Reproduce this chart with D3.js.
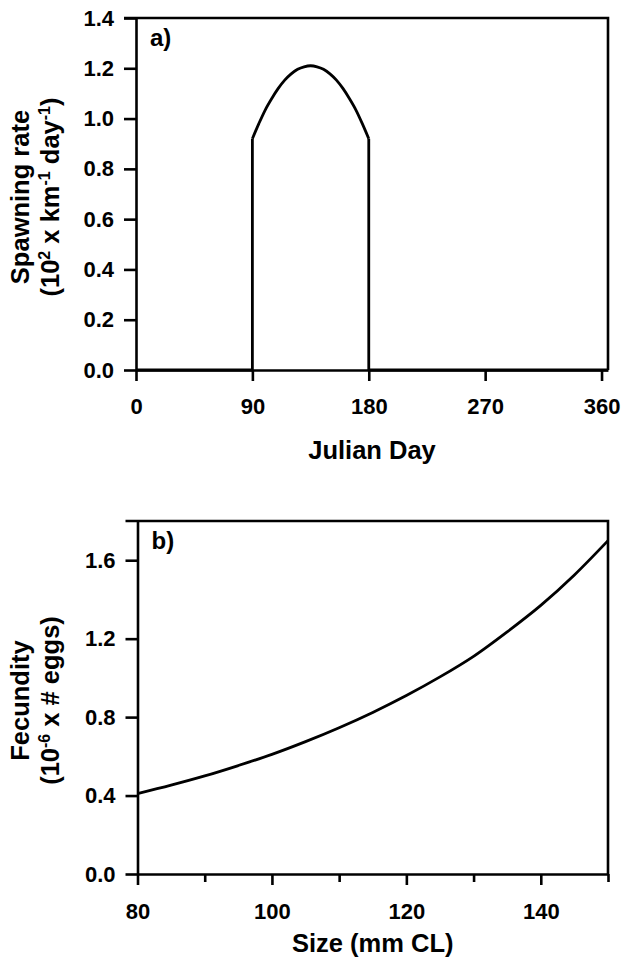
<!DOCTYPE html>
<html>
<head>
<meta charset="utf-8">
<script src="https://cdn.jsdelivr.net/npm/d3@7"></script>
<style>
  body { margin: 0; background: #fff; }
  svg { display: block; }
  .axis text { font-family: "Liberation Sans", Arial, sans-serif; font-weight: bold; font-size: 22px; fill: #000; }
  .axis path, .axis line { stroke: #000; stroke-width: 2.6; }
  .title { font-family: "Liberation Sans", Arial, sans-serif; font-weight: bold; font-size: 25.5px; fill: #000; }
</style>
</head>
<body>
<script>
// 画布尺寸
const width = 623, height = 964;

// a) 产卵率（儒略日）
const dayTicks = [0, 90, 180, 270, 360];
const rateTicks = [0, 0.2, 0.4, 0.6, 0.8, 1.0, 1.2, 1.4];
const baseDay = [0, 90, 90, null, 180, 180, 365];
const baseRate = [0, 0, 0.92, null, 0.92, 0, 0];
const spawnDay = [90, 95, 100, 105, 110, 115, 120, 125, 130, 135, 140, 145, 150, 155, 160, 165, 170, 175, 180];
const spawnRate = [0.92, 0.98, 1.035, 1.08, 1.12, 1.153, 1.178, 1.196, 1.206, 1.21, 1.206, 1.196, 1.178, 1.153, 1.12, 1.08, 1.035, 0.98, 0.92];

// b) 繁殖力（体长）
const sizeTicks = [80, 100, 120, 140];
const sizeMinor = [90, 110, 130, 150];
const fecTicks = [0, 0.4, 0.8, 1.2, 1.6];
const sizeVals = [80, 85, 90, 95, 100, 105, 110, 115, 120, 125, 130, 135, 140, 145, 150];
const fecVals = [0.41, 0.453, 0.50, 0.553, 0.61, 0.675, 0.746, 0.824, 0.91, 1.005, 1.11, 1.235, 1.37, 1.525, 1.70];

const svg = d3.select('body').append('svg')
    .attr('width', width)
    .attr('height', height);

svg.append('rect').attr('width', width).attr('height', height).attr('fill', '#fff');

function drawLine(x, y, xs, ys, curve) {
    const line = d3.line()
        .defined((d, i) => d !== null)
        .curve(curve)
        .x((d, i) => x(xs[i]))
        .y(d => y(d));
    svg.append('path')
        .datum(ys)
        .attr('d', line)
        .attr('fill', 'none')
        .attr('stroke', '#000')
        .attr('stroke-width', 2.8)
        .attr('stroke-linejoin', 'round');
}

function panel(opt) {
    const x = opt.x, y = opt.y;
    const [x0, x1] = x.range();
    const [y0, y1] = y.range();

    // 边框（上、右）
    svg.append('path')
        .attr('d', `M${x0 - 12},${y1}H${x1}V${y0}`)
        .attr('fill', 'none')
        .attr('stroke', '#000')
        .attr('stroke-width', 2.6);

    if (opt.minor) {
        svg.append('g')
            .attr('class', 'axis')
            .attr('transform', `translate(0,${y0})`)
            .call(d3.axisBottom(x).tickValues(opt.minor).tickSize(8).tickFormat(''))
            .call(g => g.select('.domain').remove());
    }

    svg.append('g')
        .attr('class', 'axis')
        .attr('transform', `translate(0,${y0})`)
        .call(d3.axisBottom(x).tickValues(opt.xTicks).tickSize(11).tickSizeOuter(0).tickPadding(opt.xPad).tickFormat(d3.format('d')));

    svg.append('g')
        .attr('class', 'axis')
        .attr('transform', `translate(${x0},0)`)
        .call(d3.axisLeft(y).tickValues(opt.yTicks).tickSize(12).tickSizeOuter(0).tickPadding(10).tickFormat(d3.format('.1f')));

    // 曲线
    opt.lines.forEach(l => drawLine(x, y, l.xs, l.ys, l.curve));

    // 面板标记
    svg.append('text')
        .attr('class', 'title')
        .attr('x', x0 + 14)
        .attr('y', y1 + 28)
        .style('font-size', '24px')
        .text(opt.tag);

    // x 轴标题
    svg.append('text')
        .attr('class', 'title')
        .attr('x', (x0 + x1) / 2)
        .attr('y', opt.xTitleY)
        .attr('text-anchor', 'middle')
        .text(opt.xTitle);

    // y 轴标题（两行）
    const cy = (y0 + y1) / 2 + 3;
    svg.append('text')
        .attr('class', 'title')
        .attr('transform', `translate(29,${cy}) rotate(-90)`)
        .attr('text-anchor', 'middle')
        .text(opt.yTitle1);

    const t2 = svg.append('text')
        .attr('class', 'title')
        .attr('transform', `translate(59,${cy}) rotate(-90)`)
        .attr('text-anchor', 'middle');
    opt.yTitle2.forEach(p => {
        const ts = t2.append('tspan').text(p.t);
        if (p.sup) ts.attr('baseline-shift', '55%').style('font-size', '16px');
    });
}

panel({
    x: d3.scaleLinear().domain([0, 365]).range([136, 608]),
    y: d3.scaleLinear().domain([0, 1.4]).range([370, 18]),
    xTicks: dayTicks, yTicks: rateTicks, xPad: 17,
    lines: [
        {xs: baseDay, ys: baseRate, curve: d3.curveLinear},
        {xs: spawnDay, ys: spawnRate, curve: d3.curveMonotoneX}
    ],
    tag: 'a)',
    xTitle: 'Julian Day', xTitleY: 459,
    yTitle1: 'Spawning rate',
    yTitle2: [{t: '(10'}, {t: '2', sup: true}, {t: ' x km'}, {t: '-1', sup: true}, {t: ' day'}, {t: '-1', sup: true}, {t: ')'}]
});

panel({
    x: d3.scaleLinear().domain([80, 150]).range([137.5, 608]),
    y: d3.scaleLinear().domain([0, 1.8]).range([874, 521]),
    xTicks: sizeTicks, minor: sizeMinor, yTicks: fecTicks, xPad: 18,
    lines: [
        {xs: sizeVals, ys: fecVals, curve: d3.curveMonotoneX}
    ],
    tag: 'b)',
    xTitle: 'Size (mm CL)', xTitleY: 952,
    yTitle1: 'Fecundity',
    yTitle2: [{t: '(10'}, {t: '-6', sup: true}, {t: ' x # eggs)'}]
});
</script>
</body>
</html>
